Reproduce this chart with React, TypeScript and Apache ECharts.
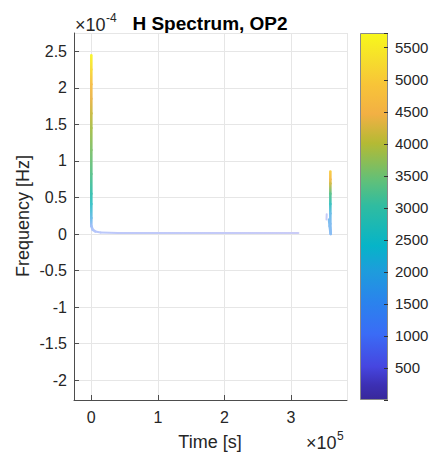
import React, { useEffect, useRef } from "react";
import * as echarts from "echarts";

// Time in units of 1e5 s, frequency in units of 1e-4 Hz, amplitude = colour value
const mainTime = [0, 0, 0, 0, 0, 0, 0, 0, 0, 0, 0, 0, 0.02, 0.06, 0.14, 0.4, 1.0, 2.0, 3.11];
const mainFreq = [2.445, 2.25, 2.05, 1.85, 1.65, 1.45, 1.15, 0.82, 0.55, 0.41, 0.22, 0.11, 0.06, 0.035, 0.02, 0.015, 0.014, 0.014, 0.014];
const mainAmp = [5650, 5250, 4700, 4400, 4150, 3900, 3600, 3300, 2900, 2600, 2000, 1300, 1050, 950, 880, 820, 780, 720, 620];

const lateTime = [3.59, 3.59, 3.59, 3.59, 3.59, 3.59, 3.59, 3.595];
const lateFreq = [0.855, 0.75, 0.69, 0.55, 0.41, 0.28, 0.14, 0.0];
const lateAmp = [5000, 4600, 4200, 3300, 2700, 2000, 1700, 1500];

const branchTime = [3.57, 3.58, 3.595];
const branchFreq = [0.2, 0.11, 0.0];
const branchAmp = [1800, 1700, 1600];

const blobTime = [3.535, 3.532];
const blobFreq = [0.27, 0.2];
const blobAmp = [700, 650];

const colorbarMin = 0;
const colorbarMax = 5730;
const colorbarStep = 500;

const timeMin = -0.26;
const timeMax = 3.84;
const freqMin = -2.27;
const freqMax = 2.75;

const cmapStops: [number, string][] = [
  [0.0, "#38289A"],
  [0.04, "#3C30B4"],
  [0.09, "#4646E0"],
  [0.18, "#3A6CF6"],
  [0.27, "#2A84EC"],
  [0.35, "#1E9CDC"],
  [0.42, "#06B4C8"],
  [0.53, "#30BCA0"],
  [0.6, "#62C078"],
  [0.7, "#B4BA34"],
  [0.78, "#F2B044"],
  [0.86, "#F8C438"],
  [0.93, "#F6DE2C"],
  [1.0, "#F8F81A"],
];

function hexToRgb(h: string): number[] {
  const n = parseInt(h.slice(1), 16);
  return [(n >> 16) & 255, (n >> 8) & 255, n & 255];
}

function cmap(v: number): number[] {
  const t = Math.max(0, Math.min(1, (v - colorbarMin) / (colorbarMax - colorbarMin)));
  for (let i = 0; i < cmapStops.length - 1; i++) {
    const [a, ca] = cmapStops[i];
    const [b, cb] = cmapStops[i + 1];
    if (t >= a && t <= b) {
      const k = (t - a) / (b - a);
      const A = hexToRgb(ca);
      const B = hexToRgb(cb);
      return A.map((x, j) => x + (B[j] - x) * k);
    }
  }
  return hexToRgb(cmapStops[cmapStops.length - 1][1]);
}

function fadedColor(v: number): string {
  const c = cmap(v);
  const alpha = Math.min(0.92, 0.12 + (0.8 * v) / 3000);
  const m = c.map((x) => Math.round(255 - alpha * (255 - x)));
  return `rgb(${m[0]},${m[1]},${m[2]})`;
}

const traces = [
  [mainTime, mainFreq, mainAmp],
  [lateTime, lateFreq, lateAmp],
  [branchTime, branchFreq, branchAmp],
  [blobTime, blobFreq, blobAmp],
];

const segments: number[][] = [];
traces.forEach(([t, f, a]) => {
  for (let i = 0; i < t.length - 1; i++) {
    segments.push([t[i], f[i], t[i + 1], f[i + 1], a[i], a[i + 1]]);
  }
});

const FONT = '"Liberation Sans", Arial, Helvetica, sans-serif';
const LABEL = "#262626";

export default function App() {
  const ref = useRef<HTMLDivElement>(null);
  useEffect(() => {
    if (!ref.current) return;
    const chart = echarts.init(ref.current, undefined, { renderer: "svg" });
    const option: any = {
      animation: false,
      backgroundColor: "#ffffff",
      textStyle: { fontFamily: FONT },
      grid: [
        { left: 74, top: 33, width: 273, height: 367 },
        { left: 360, top: 33, width: 28, height: 367 },
      ],
      xAxis: [
        {
          gridIndex: 0,
          type: "value",
          min: timeMin,
          max: timeMax,
          splitNumber: 5,
          axisLine: { show: true, onZero: false, lineStyle: { color: "#4d4d4d", width: 1 } },
          axisTick: { show: true, inside: true, length: 5, lineStyle: { color: "#4d4d4d" } },
          axisLabel: {
            color: LABEL,
            fontSize: 16,
            fontFamily: FONT,
            margin: 9,
            showMinLabel: false,
            showMaxLabel: false,
            formatter: (v: number) => (Math.abs(v - Math.round(v)) < 1e-6 ? String(Math.round(v)) : ""),
          },
          splitLine: { show: true, lineStyle: { color: "#e6e6e6", width: 1 } },
        },
        {
          gridIndex: 1,
          type: "category",
          data: ["cb"],
          show: false,
        },
      ],
      yAxis: [
        {
          gridIndex: 0,
          type: "value",
          min: freqMin,
          max: freqMax,
          splitNumber: 10,
          axisLine: { show: true, onZero: false, lineStyle: { color: "#4d4d4d", width: 1 } },
          axisTick: { show: true, inside: true, length: 5, lineStyle: { color: "#4d4d4d" } },
          axisLabel: {
            color: LABEL,
            fontSize: 16,
            fontFamily: FONT,
            margin: 7,
            showMinLabel: false,
            showMaxLabel: false,
            formatter: (v: number) => {
              const r = Math.round(v * 2) / 2;
              if (Math.abs(v - r) > 1e-6) return "";
              return String(r);
            },
          },
          splitLine: { show: true, lineStyle: { color: "#e6e6e6", width: 1 } },
        },
        {
          gridIndex: 1,
          type: "value",
          position: "right",
          min: colorbarMin,
          max: colorbarMax,
          interval: colorbarStep,
          z: 10,
          axisLine: { show: false },
          axisTick: { show: true, inside: true, length: 4, lineStyle: { color: "#333" } },
          axisLabel: {
            color: LABEL,
            fontSize: 15,
            fontFamily: FONT,
            margin: 7,
            formatter: (v: number) => (v > 0 && v % colorbarStep === 0 ? String(v) : ""),
          },
          splitLine: { show: false },
        },
      ],
      series: [
        {
          type: "custom",
          xAxisIndex: 0,
          yAxisIndex: 0,
          clip: true,
          data: segments,
          encode: { x: [0, 2], y: [1, 3] },
          renderItem: (params: any, api: any) => {
            const p1 = api.coord([api.value(0), api.value(1)]);
            const p2 = api.coord([api.value(2), api.value(3)]);
            const a1 = api.value(4);
            const a2 = api.value(5);
            const lw = a1 < 1000 ? 2 : 2.6;
            return {
              type: "line",
              shape: { x1: p1[0], y1: p1[1], x2: p2[0], y2: p2[1] },
              style: {
                stroke: new echarts.graphic.LinearGradient(
                  p1[0],
                  p1[1],
                  p2[0] + 0.001,
                  p2[1] + 0.001,
                  [
                    { offset: 0, color: fadedColor(a1) },
                    { offset: 1, color: fadedColor(a2) },
                  ],
                  true
                ),
                lineWidth: lw,
                lineCap: "round",
              },
            };
          },
        },
        {
          type: "bar",
          xAxisIndex: 1,
          yAxisIndex: 1,
          data: [colorbarMax],
          barWidth: "100%",
          itemStyle: {
            color: new echarts.graphic.LinearGradient(
              0,
              1,
              0,
              0,
              cmapStops.map(([o, c]) => ({ offset: o, color: c }))
            ),
            borderColor: "#8a8a8a",
            borderWidth: 1,
          },
        },
      ],
      graphic: [
        {
          type: "text",
          x: 210,
          y: 23,
          style: {
            text: "H Spectrum, OP2",
            fontSize: 19,
            fontWeight: "bold",
            fontFamily: FONT,
            fill: "#000",
            align: "center",
            verticalAlign: "middle",
          },
        },
        {
          type: "text",
          x: 75,
          y: 25,
          style: { text: "×10", fontSize: 18, fontFamily: FONT, fill: LABEL, align: "left", verticalAlign: "middle" },
        },
        {
          type: "text",
          x: 106,
          y: 18,
          style: { text: "-4", fontSize: 12, fontFamily: FONT, fill: LABEL, align: "left", verticalAlign: "middle" },
        },
        {
          type: "text",
          x: 210,
          y: 442,
          style: { text: "Time [s]", fontSize: 18, fontFamily: FONT, fill: LABEL, align: "center", verticalAlign: "middle" },
        },
        {
          type: "text",
          x: 306,
          y: 443,
          style: { text: "×10", fontSize: 18, fontFamily: FONT, fill: LABEL, align: "left", verticalAlign: "middle" },
        },
        {
          type: "text",
          x: 337,
          y: 436,
          style: { text: "5", fontSize: 12, fontFamily: FONT, fill: LABEL, align: "left", verticalAlign: "middle" },
        },
        {
          type: "text",
          x: 23,
          y: 216,
          rotation: Math.PI / 2,
          style: {
            text: "Frequency [Hz]",
            fontSize: 18,
            fontFamily: FONT,
            fill: LABEL,
            align: "center",
            verticalAlign: "middle",
          },
        },
      ],
    };
    chart.setOption(option);
    return () => chart.dispose();
  }, []);
  return (
    <div
      ref={ref}
      style={{ position: "fixed", left: 0, top: 0, width: 432, height: 453, background: "#fff" }}
    />
  );
}
